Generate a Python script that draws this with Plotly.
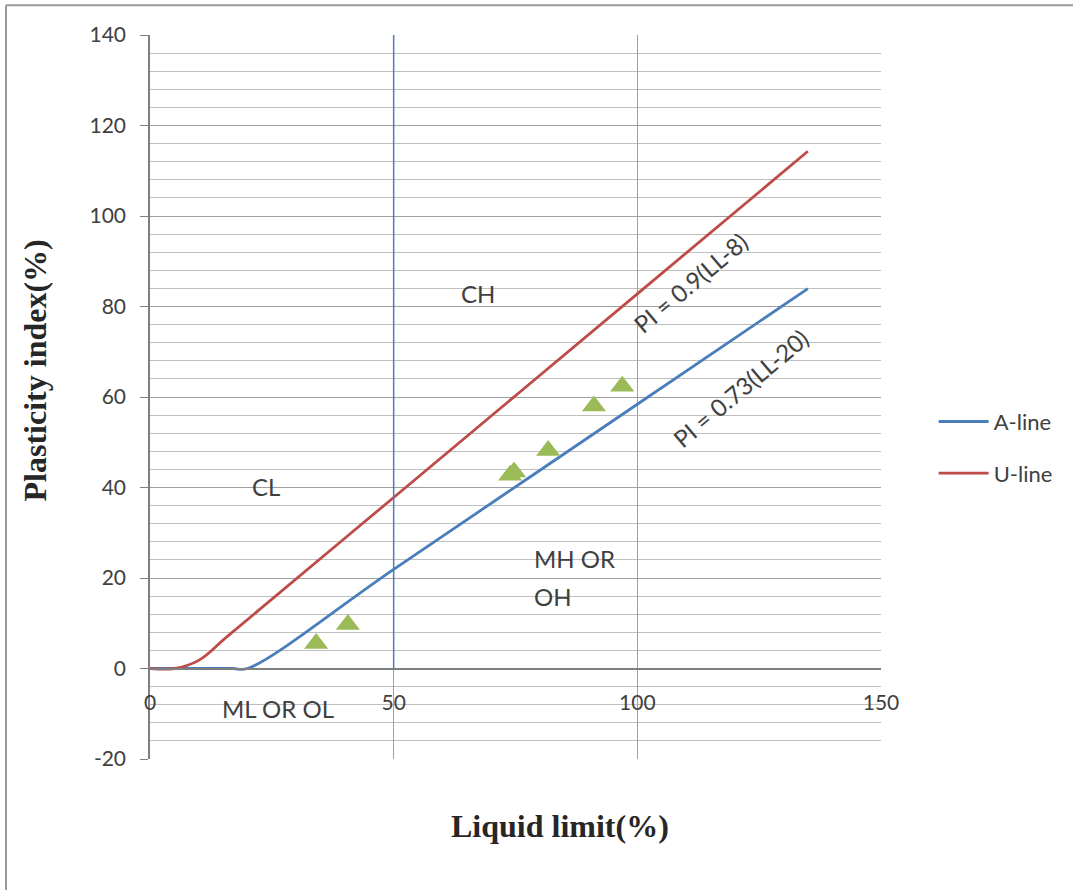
import plotly.graph_objects as go

# ---- data ----
A_LL = [0, 10, 17, 20, 50, 100, 135]
A_PI = [0, 0, 0, 0, 21.9, 58.4, 83.95]
U_LL = [0, 5, 10, 16, 50, 100, 135]
U_PI = [0, 0, 1.8, 7.2, 37.8, 82.8, 114.3]
DIV_LL = [50, 50]
DIV_PI = [0, 140]
SAMPLE_LL = [34.1, 40.6, 73.9, 74.7, 81.7, 91.1, 96.9]
SAMPLE_PI = [5.5, 9.7, 42.7, 43.4, 48.2, 58.0, 62.4]
X_TICKS = [0, 50, 100, 150]
Y_TICKS = [-20, 0, 20, 40, 60, 80, 100, 120, 140]
Y_LABELS = ["-20", "0", "20", "40", "60", "80", "100", "120", "140"]

BLUE = "#4a7ebb"
RED = "#be4b48"
GREEN = "#9bbb59"
TXT = "#404040"
FONT = "Lato, Open Sans, sans-serif"
SERIF = "Liberation Serif, Times New Roman, serif"

fig = go.Figure()
fig.add_trace(go.Scatter(x=A_LL, y=A_PI, mode="lines", name="A-line",
                         line=dict(color=BLUE, width=2.8, shape="spline", smoothing=1),
                         legendgroup="a"))
fig.add_trace(go.Scatter(x=U_LL, y=U_PI, mode="lines", name="U-line",
                         line=dict(color=RED, width=2.8, shape="spline", smoothing=1),
                         legendgroup="u"))
fig.add_trace(go.Scatter(x=DIV_LL, y=DIV_PI, mode="lines", showlegend=False,
                         line=dict(color=BLUE, width=1.5)))
fig.add_trace(go.Scatter(x=SAMPLE_LL, y=SAMPLE_PI, mode="markers", showlegend=False,
                         marker=dict(symbol="triangle-up", size=21, color=GREEN)))

fig.update_xaxes(range=[0, 150], tickvals=X_TICKS, anchor="free", position=0.125,
                 showline=True, linecolor="#7f7f7f", linewidth=1.5,
                 showgrid=True, gridcolor="#a0a0a0", gridwidth=1.3,
                 zeroline=False, ticks="", ticklabelstandoff=16,
                 tickfont=dict(family=FONT, size=21, color=TXT))
fig.update_yaxes(range=[-20, 140], tickvals=Y_TICKS, ticktext=Y_LABELS,
                 showline=True, linecolor="#7f7f7f", linewidth=1.5,
                 showgrid=True, gridcolor="#a0a0a0", gridwidth=1.3,
                 zeroline=False, ticks="outside", ticklen=8, tickcolor="#7f7f7f",
                 ticklabelstandoff=10,
                 minor=dict(dtick=4, showgrid=True, gridcolor="#bfbfbf", gridwidth=1),
                 tickfont=dict(family=FONT, size=21, color=TXT))

ann = dict(showarrow=False, font=dict(family=FONT, size=24, color=TXT))
fig.add_annotation(x=67.3, y=82.9, text="CH", **ann)
fig.add_annotation(x=23.8, y=40.3, text="CL", **ann)
fig.add_annotation(x=78.4, y=24.3, text="MH OR", xanchor="left", **ann)
fig.add_annotation(x=78.4, y=15.9, text="OH", xanchor="left", **ann)
fig.add_annotation(x=26.3, y=-8.8, text="ML OR OL", **ann)
fig.add_annotation(x=111.0, y=85.2, text="PI = 0.9(LL-8)", textangle=-40, **ann)
fig.add_annotation(x=121.1, y=61.9, text="PI = 0.73(LL-20)", textangle=-40, **ann)

fig.add_annotation(xref="paper", yref="paper", x=-0.157, y=0.537, xanchor="center", yanchor="middle",
                   text="<b>Plasticity index(%)</b>", textangle=-90, showarrow=False,
                   font=dict(family=SERIF, size=32, color="#262626"))
fig.add_annotation(xref="paper", yref="paper", x=0.561, y=-0.0925, xanchor="center", yanchor="middle",
                   text="<b>Liquid limit(%)</b>", showarrow=False,
                   font=dict(family=SERIF, size=32, color="#262626"))

# outer chart border (left and top)
fig.add_shape(type="line", xref="paper", yref="paper", x0=-0.197, x1=-0.197, y0=-0.25, y1=1.041,
              line=dict(color="#9a9a9a", width=2))
fig.add_shape(type="line", xref="paper", yref="paper", x0=-0.197, x1=1.3, y0=1.041, y1=1.041,
              line=dict(color="#9a9a9a", width=2))

fig.update_layout(
    width=1073, height=890,
    margin=dict(l=150, r=192, t=35, b=131),
    plot_bgcolor="white", paper_bgcolor="white",
    legend=dict(x=1.072, y=0.43, xanchor="left", yanchor="middle",
                font=dict(family=FONT, size=22, color=TXT),
                tracegroupgap=20, itemwidth=50, bgcolor="rgba(0,0,0,0)"),
)

fig.write_html("out.html", config={"displayModeBar": False},
               post_script="document.body.style.margin='0px';")
